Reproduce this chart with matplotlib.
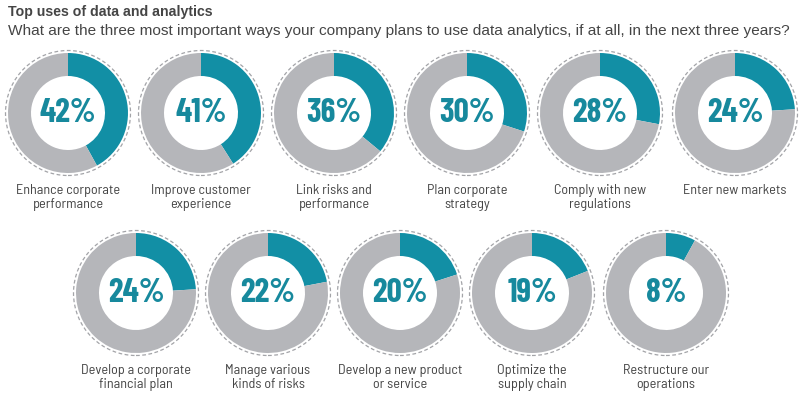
import matplotlib.pyplot as plt
from matplotlib.patches import Circle

plt.rcParams['font.family'] = ['Barlow Semi Condensed', 'DejaVu Sans']

labels_top = ["Enhance corporate\nperformance", "Improve customer\nexperience",
              "Link risks and\nperformance", "Plan corporate\nstrategy",
              "Comply with new\nregulations", "Enter new markets"]
values_top = [42, 41, 36, 30, 28, 24]

labels_bottom = ["Develop a corporate\nfinancial plan", "Manage various\nkinds of risks",
                 "Develop a new product\nor service", "Optimize the\nsupply chain",
                 "Restructure our\noperations"]
values_bottom = [24, 22, 20, 19, 8]

TEAL = "#128fa5"
GREY = "#b5b6ba"
DASH = "#a3a4a8"
TEXT = "#454545"

W, H = 802, 399
fig = plt.figure(figsize=(W / 100, H / 100), dpi=100)
ax = fig.add_axes([0, 0, 1, 1])

R = 60


def donut(cx, cy, val, label):
    y = H - cy
    ax.pie([val, 100 - val], colors=[TEAL, GREY], startangle=90, counterclock=False,
           center=(cx, y), radius=R, wedgeprops=dict(width=R - 37, linewidth=0))
    ax.add_patch(Circle((cx, y), R + 2.5, fill=False, ec=DASH, lw=0.9, ls=(0, (3, 2))))
    ax.text(cx, y - 0.5, f"{val}%", ha="center", va="center", fontsize=24,
            fontweight="bold", color="#17899d", family=['Barlow Condensed', 'DejaVu Sans'])
    ax.text(cx, y - R - 11, label, ha="center", va="top", fontsize=10.2,
            color=TEXT, linespacing=1.1)


top_x = [68, 201, 334, 467, 600, 735]
for x, v, l in zip(top_x, values_top, labels_top):
    donut(x, 113, v, l)

bottom_x = [136, 268, 400, 532, 666]
for x, v, l in zip(bottom_x, values_bottom, labels_bottom):
    donut(x, 293, v, l)

ax.text(8, H - 12, "Top uses of data and analytics", ha="left", va="center",
        fontsize=10.2, fontweight="bold", color=TEXT, family=['Liberation Sans', 'DejaVu Sans'])
ax.text(8, H - 31, "What are the three most important ways your company plans to use data analytics, if at all, in the next three years?",
        ha="left", va="center", fontsize=11.1, color=TEXT, family=['Liberation Sans', 'DejaVu Sans'])

ax.set_xlim(0, W)
ax.set_ylim(0, H)
ax.set_aspect("equal")
ax.axis("off")

fig.savefig("out.png", dpi=100)
